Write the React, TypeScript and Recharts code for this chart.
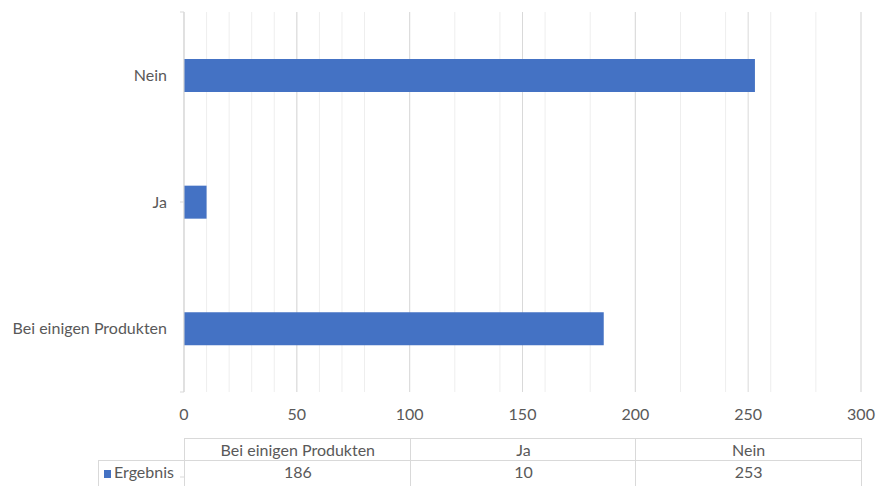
import { BarChart, Bar, XAxis, YAxis, CartesianGrid } from "recharts"

const categories = ["Bei einigen Produkten", "Ja", "Nein"]
const ergebnis = [186, 10, 253]
const xTicks = [0, 50, 100, 150, 200, 250, 300]
const minorTicks = [0, 10, 20, 30, 40, 50, 60, 70, 80, 90, 100, 110, 120, 130, 140, 150, 160, 170, 180, 190, 200, 210, 220, 230, 240, 250, 260, 270, 280, 290, 300]
const edgeTicks = [0, 1, 2, 3]
const seriesName = "Ergebnis"

const data = categories.map((name, i) => ({ name, value: ergebnis[i] }))

const FONT = "Lato, 'Open Sans', sans-serif"
const TEXT = "#595959"
const GRID = "#d9d9d9"
const BLUE = "#4472c4"

const W = 876
const H = 486
const PLOT_LEFT = 184
const PLOT_RIGHT = 861
const TABLE_TOP = 438
const ROW_H = 22
const ROW_LABEL_LEFT = 98

// short tick marks on the category boundaries, left of the axis line
const EdgeTick = (props: any) => {
  const { y } = props
  return <line x1={PLOT_LEFT - 4} x2={PLOT_LEFT} y1={y} y2={y} stroke={GRID} strokeWidth={1} />
}

const DataTable = () => {
  const colW = (PLOT_RIGHT - PLOT_LEFT) / categories.length
  const cell: React.CSSProperties = {
    position: "absolute",
    height: ROW_H,
    lineHeight: `${ROW_H - 1}px`,
    textAlign: "center",
    boxSizing: "border-box",
    fontSize: 16,
    color: TEXT,
    fontFamily: FONT,
  }
  return (
    <div style={{ position: "absolute", left: 0, top: 0, width: W, height: H, pointerEvents: "none" }}>
      {categories.map((c, i) => (
        <div
          key={"h" + c}
          style={{
            ...cell,
            left: PLOT_LEFT + i * colW,
            top: TABLE_TOP,
            width: colW + 1,
            borderTop: `1px solid ${GRID}`,
            borderLeft: `1px solid ${GRID}`,
            borderRight: i === categories.length - 1 ? `1px solid ${GRID}` : undefined,
          }}
        >
          {c}
        </div>
      ))}
      <div
        style={{
          ...cell,
          left: ROW_LABEL_LEFT,
          top: TABLE_TOP + ROW_H,
          width: PLOT_LEFT - ROW_LABEL_LEFT,
          height: H - TABLE_TOP - ROW_H,
          borderTop: `1px solid ${GRID}`,
          borderLeft: `1px solid ${GRID}`,
          textAlign: "left",
          paddingLeft: 5,
        }}
      >
        <span style={{ display: "inline-block", width: 7, height: 8, background: BLUE, marginRight: 3 }} />
        {seriesName}
      </div>
      {ergebnis.map((v, i) => (
        <div
          key={"v" + i}
          style={{
            ...cell,
            left: PLOT_LEFT + i * colW,
            top: TABLE_TOP + ROW_H,
            width: colW + 1,
            height: H - TABLE_TOP - ROW_H,
            borderTop: `1px solid ${GRID}`,
            borderLeft: `1px solid ${GRID}`,
            borderRight: i === categories.length - 1 ? `1px solid ${GRID}` : undefined,
          }}
        >
          {v}
        </div>
      ))}
    </div>
  )
}

export default function App() {
  return (
    <div style={{ position: "absolute", left: 0, top: 0, width: W, height: H, background: "#fff", overflow: "hidden" }}>
      <BarChart
        width={W}
        height={H}
        data={data}
        layout="vertical"
        margin={{ top: 12, right: W - PLOT_RIGHT, bottom: 64, left: 0 }}
      >
        {/* faint minor grid every 10, then the major grid every 50 on top */}
        <CartesianGrid horizontal={false} verticalValues={minorTicks} stroke="#eeeeee" />
        <CartesianGrid horizontal={false} stroke={GRID} />
        <XAxis
          type="number"
          domain={[0, 300]}
          ticks={xTicks}
          axisLine={false}
          tickLine={false}
          height={30}
          tickMargin={11}
          tick={{ fill: TEXT, fontSize: 16, fontFamily: FONT }}
        />
        <YAxis
          type="category"
          dataKey="name"
          reversed
          width={PLOT_LEFT}
          axisLine={{ stroke: GRID }}
          tickLine={false}
          tickMargin={11}
          tick={{ fill: TEXT, fontSize: 16, fontFamily: FONT }}
        />
        <YAxis
          yAxisId="edge"
          type="number"
          domain={[0, 3]}
          ticks={edgeTicks}
          mirror
          axisLine={false}
          tickLine={false}
          tick={<EdgeTick />}
        />
        <Bar dataKey="value" fill={BLUE} barSize={33} isAnimationActive={false} />
      </BarChart>
      <DataTable />
    </div>
  )
}
